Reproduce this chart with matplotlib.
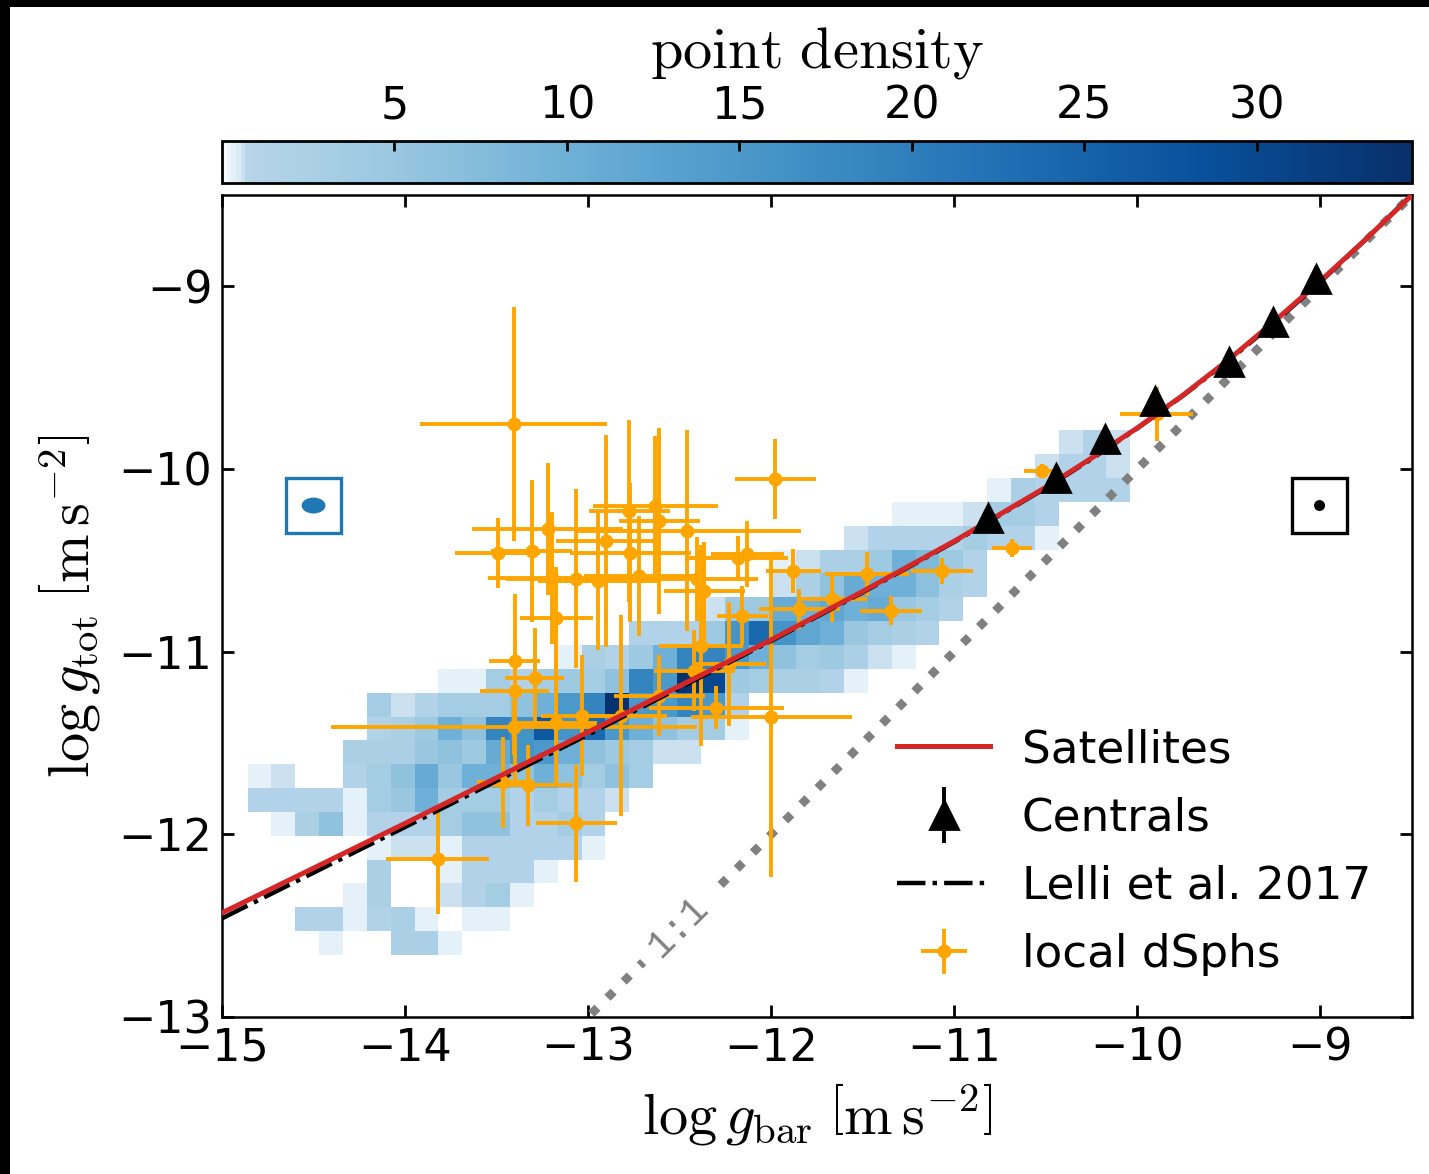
import numpy as np
import matplotlib
matplotlib.use("Agg")
import matplotlib.pyplot as plt
from matplotlib.colors import LinearSegmentedColormap
from matplotlib.patches import Rectangle, Ellipse
from matplotlib.legend_handler import HandlerErrorbar

plt.rcParams['mathtext.fontset'] = 'cm'
plt.rcParams['font.family'] = ['DejaVu Sans']

# ---------------- data ----------------
# 2-D point-density grid (rows counted from the bottom: first column, values)
BIN_X0, BIN_DX = -14.86, 0.1303
BIN_Y0, BIN_DY = -12.66, 0.1305
N_COLS, N_ROWS = 37, 22
density_rows = {
    21: (34, [0.6, 1.5, 0.6]),
    20: (33, [0.6, 1.5, 1.5, 0.6]),
    19: (31, [0.4, 2.5, 1.5, 1.5, 1.5, 1.5]),
    18: (27, [0.4, 0.4, 0.4, 0.6, 3.5, 3.5, 1.5]),
    17: (25, [0.6, 1.5, 1.5, 1.5, 1.5, 3.5, 1.5, 1.5, 0.4]),
    16: (22, [0.4, 0.6, 2.5, 2.5, 4.5, 10, 8, 4.5, 1.5]),
    15: (22, [0.6, 2.5, 6, 11, 10, 10, 6.5, 2.5, 1.5]),
    14: (19, [0.6, 4.5, 4.5, 11, 10, 12, 10, 11, 5, 3.5, 1.5]),
    13: (16, [1.5, 1.5, 1.5, 4.5, 16, 24, 16, 12, 10, 5, 3.5, 2.5, 1.5]),
    12: (13, [0.4, 2.5, 1.5, 4.5, 10, 19, 19, 15, 10, 6, 3.5, 4.5, 2.5, 0.6, 0.4]),
    11: (8, [0.4, 0.4, 3.5, 1.5, 3.5, 4.5, 3.5, 6, 19, 15, 34, 30, 4.5, 3.5, 2.5, 2.5, 1.5, 0.4]),
    10: (5, [3.5, 0.6, 1.5, 3.5, 3.5, 3.5, 6, 10, 15, 19, 34, 15, 15, 19, 15, 1.5]),
    9: (5, [1.5, 2.5, 4.5, 10, 6, 19, 16, 27, 16, 24, 15, 10, 6, 3.5, 3.5, 0.4]),
    8: (4, [2.5, 2.5, 2.5, 5, 6, 4.5, 11, 16, 15, 10, 6, 4.5, 3.5, 0.6, 0.6]),
    7: (0, [0.4, 0.6, 0, 0, 1.5, 3.5, 6, 11, 5, 10, 10, 6, 10, 6, 3.5, 6, 3.5]),
    6: (0, [1.5, 1.5, 1.5, 1.5, 0.4, 3.5, 5, 10, 3.5, 3.5, 3.5, 1.5, 3.5, 1.5, 1.5, 0.6]),
    5: (1, [0.4, 2.5, 6, 0.4, 1.5, 1.5, 1.5, 3.5, 6, 6, 1.5, 1.5, 3.5, 1.5]),
    4: (5, [0.4, 0.6, 0.6, 0.4, 1.5, 1.5, 1.5, 1.5, 1.5, 0.4]),
    3: (5, [2.5, 0, 0, 0.4, 1.5, 1.5, 1.5, 0.4]),
    2: (4, [0.4, 2.5, 0, 0, 0.6, 1.5, 3.5, 0.4]),
    1: (2, [1.5, 1.5, 0.4, 1.5, 2.5, 0.4, 0, 0.4, 0.4]),
    0: (3, [0.4, 0, 0, 2.5, 2.5, 0.4]),
}
DENS_MAX = 34.5
cbar_ticks = [5, 10, 15, 20, 25, 30]

# Satellites (red) and Lelli et al. 2017 (black dash-dot) relations
sat_x = [-15, -14, -13, -12, -11.5, -11, -10.5, -10.25, -10, -9.75, -9.5, -9.25, -9, -8.75, -8.5]
sat_y = [-12.43, -11.94, -11.44, -10.935, -10.67, -10.395, -10.10, -9.94, -9.775, -9.595, -9.40, -9.19, -8.97, -8.74, -8.5]
lel_x = [-15, -14, -13, -12, -11.5, -11, -10.5, -10.25, -10, -9.75, -9.5, -9.25, -9, -8.75, -8.5]
lel_y = [-12.46, -11.96, -11.454, -10.941, -10.675, -10.399, -10.104, -9.945, -9.777, -9.598, -9.405, -9.197, -8.975, -8.741, -8.497]
one_x = [-15, -8.5]
one_y = [-15, -8.5]

# Centrals
cen_x = [-10.817, -10.445, -10.178, -9.902, -9.499, -9.258, -9.022]
cen_y = [-10.266, -10.048, -9.838, -9.628, -9.414, -9.195, -8.958]
cen_err = [0.02] * 7

# local dSphs
dsph_x = [-13.407, -11.978, -13.495, -13.222, -12.458, -12.775, -12.633, -12.905, -12.769, -12.131,
          -12.180, -11.880, -13.195, -13.069, -12.944, -12.720, -12.404, -13.173, -13.402, -11.667,
          -11.847, -12.158, -12.382, -12.229, -12.420, -12.611, -12.300, -12.818, -13.036, -13.173,
          -12.000, -13.064, -13.822, -13.467, -13.331, -13.402, -13.293, -13.407, -11.476, -11.067,
          -11.345, -10.685, -10.522, -9.894, -13.309, -12.611, -12.365]
dsph_y = [-9.754, -10.055, -10.459, -10.328, -10.339, -10.230, -10.202, -10.393, -10.459, -10.464,
          -10.486, -10.557, -10.596, -10.601, -10.612, -10.585, -10.601, -10.814, -11.049, -10.710,
          -10.765, -10.803, -10.967, -11.066, -11.104, -11.240, -11.306, -11.350, -11.350, -11.393,
          -11.355, -11.940, -12.137, -11.716, -11.732, -11.213, -11.142, -11.415, -10.574, -10.557,
          -10.776, -10.432, -10.011, -9.699, -10.448, -10.284, -10.667]
dsph_xerr = [0.51, 0.22, 0.23, 0.41, 0.62, 0.22, 0.34, 0.27, 0.33, 0.20,
             0.27, 0.15, 0.35, 0.38, 0.33, 0.30, 0.33, 0.20, 0.14, 0.19,
             0.22, 0.14, 0.23, 0.20, 0.22, 0.25, 0.37, 0.25, 0.22, 0.22,
             0.44, 0.22, 0.28, 0.14, 0.25, 0.19, 0.16, 1.00, 0.23, 0.17,
             0.17, 0.11, 0.10, 0.20, 0.22, 0.22, 0.22]
dsph_yerr = [0.64, 0.22, 0.19, 0.36, 0.55, 0.50, 0.38, 0.58, 0.38, 0.18,
             0.12, 0.12, 0.36, 0.49, 0.38, 0.33, 0.23, 0.28, 0.11, 0.13,
             0.11, 0.16, 0.55, 0.34, 0.22, 0.22, 0.12, 0.55, 0.33, 0.33,
             0.88, 0.32, 0.30, 0.25, 0.22, 0.53, 0.27, 0.15, 0.12, 0.07,
             0.08, 0.05, 0.04, 0.15, 0.39, 0.51, 0.27]

# inset symbols (typical uncertainties)
blue_box = (-14.65, -10.35, 0.30, 0.30)
blue_ell = (-14.5, -10.2, 0.13, 0.087)
black_box = (-9.155, -10.35, 0.30, 0.30)
black_dot = (-9.005, -10.2, 0.06, 0.06)

# ---------------- figure ----------------
W, H = 1429, 1174
DPI = 200
fig = plt.figure(figsize=(W / DPI, H / DPI), dpi=DPI, facecolor='white')

# dark frame seen on the top/left edge of the reference
fig.patches.append(Rectangle((0, 1 - 7 / H), 1, 7 / H, transform=fig.transFigure,
                             facecolor='black', edgecolor='none', zorder=0))
fig.patches.append(Rectangle((0, 0), 10 / W, 1, transform=fig.transFigure,
                             facecolor='black', edgecolor='none', zorder=0))

ax = fig.add_axes([222 / W, 1 - 1017 / H, (1412 - 222) / W, (1017 - 195) / H])
cax = fig.add_axes([222 / W, 1 - 183 / H, (1412 - 222) / W, (183 - 141) / H])

# colormap matched to the colour bar
blues = plt.get_cmap('Blues')
nodes = [(0.0, '#f7fbff'), (0.012, '#dcebf5'), (0.02, blues(0.3))]
for t in np.linspace(0, 1, 40)[1:]:
    nodes.append((0.02 + 0.98 * t, blues(0.3 + 0.7 * t)))
cmap = LinearSegmentedColormap.from_list('dens', nodes)

grid = np.zeros((N_ROWS, N_COLS))
for r, (c0, vals) in density_rows.items():
    grid[r, c0:c0 + len(vals)] = vals
x_edges = BIN_X0 + BIN_DX * np.arange(N_COLS + 1)
y_edges = BIN_Y0 + BIN_DY * np.arange(N_ROWS + 1)
mesh = ax.pcolormesh(x_edges, y_edges, np.ma.masked_equal(grid, 0), cmap=cmap,
                     vmin=0, vmax=DENS_MAX, zorder=1, linewidth=0, antialiased=False)

# 1:1 line
ax.plot(one_x, one_y, ls=':', color='gray', lw=3.1, zorder=2)
ax.text(-12.51, -12.51, '1:1', rotation=45, ha='center', va='center', color='gray',
        fontsize=14, family='Liberation Mono', zorder=3, rotation_mode='anchor',
        bbox=dict(facecolor='white', edgecolor='none', pad=5))

# dSphs
dsph = ax.errorbar(dsph_x, dsph_y, xerr=dsph_xerr, yerr=dsph_yerr, fmt='o', color='orange',
                   ms=4, elinewidth=1.4, capsize=0, zorder=4, label='local dSphs')

lel, = ax.plot(lel_x, lel_y, ls='-.', color='black', lw=1.6, zorder=5, label='Lelli et al. 2017')
sat, = ax.plot(sat_x, sat_y, ls='-', color='#d62728', lw=1.8, zorder=6, label='Satellites')
cen = ax.errorbar(cen_x, cen_y, yerr=cen_err, fmt='^', color='black', ms=10,
                  elinewidth=1.4, capsize=0, zorder=7, label='Centrals')

# inset symbols
ax.add_patch(Rectangle(blue_box[:2], blue_box[2], blue_box[3], fill=False,
                       edgecolor='#1f77b4', lw=1.2, zorder=8))
ax.add_patch(Ellipse(blue_ell[:2], blue_ell[2], blue_ell[3], facecolor='#1f77b4',
                     edgecolor='none', zorder=8))
ax.add_patch(Rectangle(black_box[:2], black_box[2], black_box[3], fill=False,
                       edgecolor='black', lw=1.2, zorder=8))
ax.add_patch(Ellipse(black_dot[:2], black_dot[2], black_dot[3], facecolor='black',
                     edgecolor='none', zorder=8))

ax.set_xlim(-15, -8.5)
ax.set_ylim(-13, -8.5)
ax.set_xticks([-15, -14, -13, -12, -11, -10, -9])
ax.set_yticks([-13, -12, -11, -10, -9])
ax.tick_params(direction='in', top=True, right=True, length=4.3, width=1.0,
               labelsize=16, colors='black')
for s in ax.spines.values():
    s.set_linewidth(0.9)

ax.set_xlabel(r'$\log g_{\rm bar}\;\left[\mathrm{m\,s}^{-2}\right]$', fontsize=21, labelpad=4)
ax.set_ylabel(r'$\log g_{\rm tot}\;\left[\mathrm{m\,s}^{-2}\right]$', fontsize=21, labelpad=6)

leg = ax.legend([sat, cen, lel, dsph], ['Satellites', 'Centrals', 'Lelli et al. 2017', 'local dSphs'],
                loc='lower right', frameon=False, fontsize=16.3, handlelength=2.05,
                handletextpad=0.7, labelspacing=0.56, borderaxespad=0.5,
                handler_map={cen: HandlerErrorbar(xerr_size=0.5, yerr_size=0.62)})

# colour bar
cb = fig.colorbar(mesh, cax=cax, orientation='horizontal', ticks=cbar_ticks)
cax.xaxis.set_ticks_position('top')
cax.xaxis.set_label_position('top')
cax.tick_params(direction='in', length=3.6, width=1.0, labelsize=16, pad=5)
cb.outline.set_linewidth(1.0)
cb.set_label(r'$\mathrm{point\ density}$', fontsize=21, labelpad=6)

fig.savefig('out.png', dpi=DPI, facecolor='white')
